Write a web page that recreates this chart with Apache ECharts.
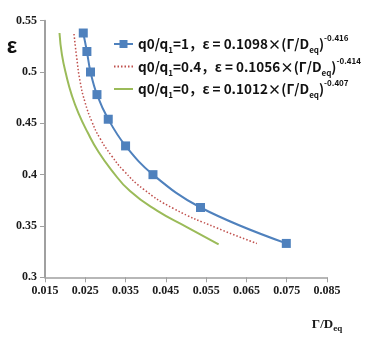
<!DOCTYPE html>
<html><head><meta charset="utf-8">
<script src="https://cdn.jsdelivr.net/npm/echarts@6/dist/echarts.min.js"></script>
<style>html,body{margin:0;padding:0;background:#fff}#c{width:378px;height:340px}</style>
</head><body><div id="c"></div>
<script>
// Data
const xTicks = ['0.015','0.025','0.035','0.045','0.055','0.065','0.075','0.085'];
const yTicks = ['0.3','0.35','0.4','0.45','0.5','0.55'];

const q1X = [0.0245, 0.0254, 0.0263, 0.0279, 0.0307, 0.0350, 0.0418, 0.0536, 0.0749];
const q1Y = [0.538, 0.520, 0.500, 0.478, 0.454, 0.428, 0.400, 0.368, 0.333];

const q04X = [0.0222, 0.0229, 0.0237, 0.0249, 0.0266, 0.0287, 0.0316, 0.0345, 0.0394, 0.0469, 0.0577, 0.0676];
const q04Y = [0.537, 0.513, 0.491, 0.471, 0.452, 0.435, 0.418, 0.404, 0.386, 0.367, 0.348, 0.333];

const q0X = [0.0186, 0.0192, 0.0204, 0.0216, 0.0233, 0.0256, 0.0283, 0.0314, 0.0361, 0.0428, 0.0502, 0.0581];
const q0Y = [0.538, 0.517, 0.495, 0.478, 0.460, 0.441, 0.422, 0.405, 0.384, 0.365, 0.349, 0.332];

const seriesNames = ['q0/q1=1', 'q0/q1=0.4', 'q0/q1=0'];
const legendParts = [
  ['1', '1098', '0.416'],
  ['0.4', '1056', '0.414'],
  ['0', '1012', '0.407']
];
const yAxisTitle = 'ε';

const pair = (xs, ys) => xs.map((x, i) => [x, ys[i]]);

const chart = echarts.init(document.getElementById('c'));
const labelFont = {fontFamily: '"Liberation Serif", "Times New Roman", serif', fontWeight: 'bold', fontSize: 12, color: '#1a1a1a'};
const legFont = '"Noto Sans CJK SC", sans-serif';

chart.setOption({
  animation: false,
  backgroundColor: '#fff',
  grid: {left: 45, right: 51, top: 20.7, bottom: 62.7, containLabel: false, outerBoundsMode: 'none'},
  graphic: [{
    type: 'text', x: 12, y: 47, z: 10,
    style: {text: yAxisTitle, align: 'center', verticalAlign: 'middle', fill: '#111',
      font: 'bold 22px "Liberation Sans", Arial, sans-serif'}
  }],
  xAxis: {
    type: 'value', min: 0.015, max: 0.085, interval: 0.01,
    axisLine: {lineStyle: {color: '#a0a0a0', width: 1.5}},
    axisTick: {show: true, inside: false, length: 5, lineStyle: {color: '#a0a0a0'}},
    splitLine: {show: false},
    axisLabel: Object.assign({margin: 8, formatter: (v) => xTicks[Math.round((v - 0.015) / 0.01)]}, labelFont),
    name: 'Γ/D{s|eq}',
    nameLocation: 'end', nameGap: 0, nameMoveOverlap: false,
    nameTextStyle: {
      fontFamily: '"Liberation Serif", serif', fontWeight: 'bold', fontSize: 13, color: '#1a1a1a',
      align: 'center', verticalAlign: 'top', padding: [38, 0, 0, 0], lineHeight: 18,
      rich: {s: {fontFamily: '"Liberation Serif", serif', fontWeight: 'bold', fontSize: 9, verticalAlign: 'bottom', lineHeight: 18, color: '#1a1a1a'}}
    }
  },
  yAxis: {
    type: 'value', min: 0.3, max: 0.55, interval: 0.05,
    axisLine: {show: true, lineStyle: {color: '#a0a0a0', width: 2}},
    axisTick: {show: true, inside: false, length: 5, lineStyle: {color: '#a0a0a0'}},
    splitLine: {show: false},
    axisLabel: Object.assign({margin: 8, formatter: (v) => yTicks[Math.round((v - 0.3) / 0.05)]}, labelFont)
  },
  legend: {
    orient: 'vertical', left: 108, top: 29,
    itemWidth: 19, itemHeight: 10, itemGap: 2.5,
    data: [
      {name: seriesNames[0]},
      {name: seriesNames[1], itemStyle: {opacity: 0}},
      {name: seriesNames[2], itemStyle: {opacity: 0}}
    ],
    formatter: (name) => {
      const p = legendParts[seriesNames.indexOf(name)];
      return '{n|q0/q}{s|1}{n|=' + p[0] + '，ε = 0.' + p[1] + '×(Γ/D}{s|eq}{n|)}{p|-' + p[2] + '}';
    },
    textStyle: {
      fontFamily: legFont, fontWeight: 'bold', fontSize: 13.5, color: '#111', lineHeight: 20,
      rich: {
        n: {fontFamily: legFont, fontWeight: 'bold', fontSize: 13.5, lineHeight: 20, color: '#111'},
        s: {fontFamily: legFont, fontWeight: 'bold', fontSize: 8, lineHeight: 20, verticalAlign: 'bottom', color: '#111'},
        p: {fontFamily: legFont, fontWeight: 'bold', fontSize: 8, lineHeight: 20, verticalAlign: 'top', color: '#111'}
      }
    }
  },
  series: [
    {
      name: seriesNames[0], type: 'line', smooth: 0.4, data: pair(q1X, q1Y),
      symbol: 'rect', symbolSize: 9, showSymbol: true,
      itemStyle: {color: '#4f81bd'}, lineStyle: {color: '#4f81bd', width: 2}
    },
    {
      name: seriesNames[1], type: 'line', smooth: 0.5, data: pair(q04X, q04Y),
      showSymbol: false, symbol: 'none',
      itemStyle: {color: '#c0504d'}, lineStyle: {color: '#c0504d', width: 1.5, type: [1.5, 2]}
    },
    {
      name: seriesNames[2], type: 'line', smooth: 0.5, data: pair(q0X, q0Y),
      showSymbol: false, symbol: 'none',
      itemStyle: {color: '#9bbb59'}, lineStyle: {color: '#9bbb59', width: 2}
    }
  ]
});
</script></body></html>
